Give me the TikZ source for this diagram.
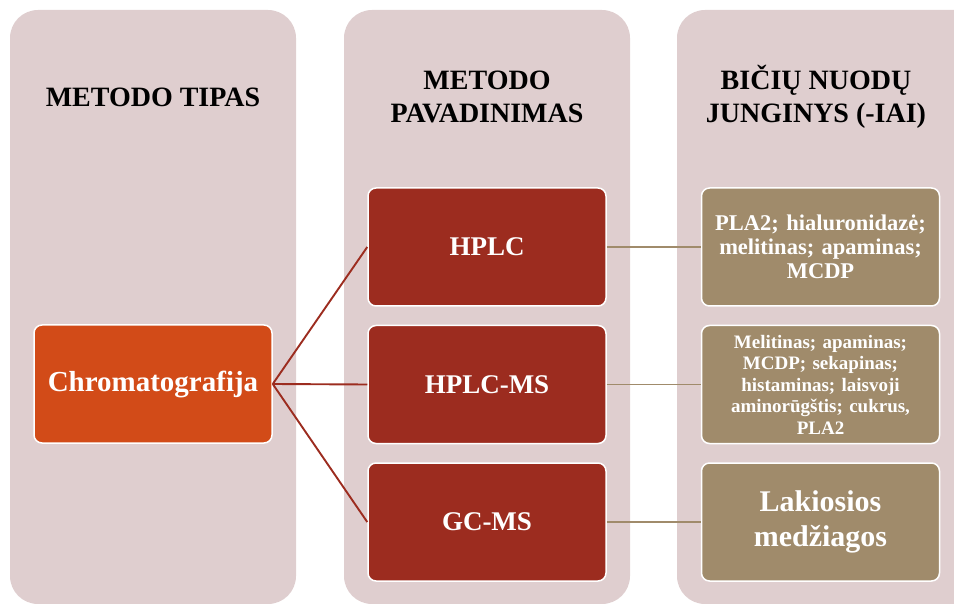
\documentclass[tikz,border=0pt]{standalone}
\usepackage{fontspec}
\setmainfont{Liberation Serif}
\usepackage{xcolor}
\usetikzlibrary{positioning}
\frenchspacing

\definecolor{colbg}{HTML}{DFCECF}
\definecolor{typeorange}{HTML}{D24B18}
\definecolor{methodred}{HTML}{9C2C1F}
\definecolor{comptan}{HTML}{A08B6B}

\begin{document}
\begin{tikzpicture}[
  x=1pt, y=-1pt,
  node distance=19pt,
  colhead/.style={font=\bfseries\fontsize{28}{33}\selectfont, align=center, text=black},
  box/.style={draw=white, line width=1.5pt, rounded corners=8pt, minimum width=238pt, minimum height=118pt, align=center, text=white, font=\bfseries\fontsize{27}{32}\selectfont},
  typebox/.style={box, fill=typeorange},
  methodbox/.style={box, fill=methodred},
  compbox/.style={box, fill=comptan, text width=230pt},
  redline/.style={draw=methodred, line width=1.9pt},
  tanline/.style={draw=comptan, line width=1.9pt}
]
\useasboundingbox (0,0) rectangle (954,604);

% columns
\fill[colbg, rounded corners=28pt] (10,10) rectangle (296,604);
\fill[colbg, rounded corners=28pt] (344,10) rectangle (630,604);
\fill[colbg, rounded corners=28pt] (677,10) rectangle (1000,604);

\node[colhead] (h1) at (153,97) {METODO TIPAS};
\node[colhead] (h2) at (487,97) {METODO\\PAVADINIMAS};
\node[colhead] (h3) at (816,97) {BIČIŲ NUODŲ\\JUNGINYS (-IAI)};

\node[typebox, font=\bfseries\fontsize{29}{34}\selectfont] (chrom) at (153,384) {Chromatografija};

\node[methodbox] (hplc) at (487,247) {HPLC};
\node[methodbox, below=18pt of hplc] (hplcms) {HPLC-MS};
\node[methodbox, below=18pt of hplcms] (gcms) {GC-MS};

\node[compbox, right=94pt of hplc, font=\bfseries\fontsize{22.5}{24}\selectfont] (c1) {PLA2; hialuronidazė;\\melitinas; apaminas;\\MCDP};
\node[compbox, right=94pt of hplcms, font=\bfseries\fontsize{19}{21.5}\selectfont] (c2) {Melitinas; apaminas;\\MCDP; sekapinas;\\histaminas; laisvoji\\aminorūgštis; cukrus,\\PLA2};
\node[compbox, right=94pt of gcms, font=\bfseries\fontsize{30}{35}\selectfont] (c3) {Lakiosios\\medžiagos};

\draw[redline] (chrom.east) -- (hplc.west);
\draw[redline] (chrom.east) -- (hplcms.west);
\draw[redline] (chrom.east) -- (gcms.west);
\draw[tanline] (hplc.east) -- (c1.west);
\draw[tanline] (hplcms.east) -- (c2.west);
\draw[tanline] (gcms.east) -- (c3.west);
\end{tikzpicture}
\end{document}
